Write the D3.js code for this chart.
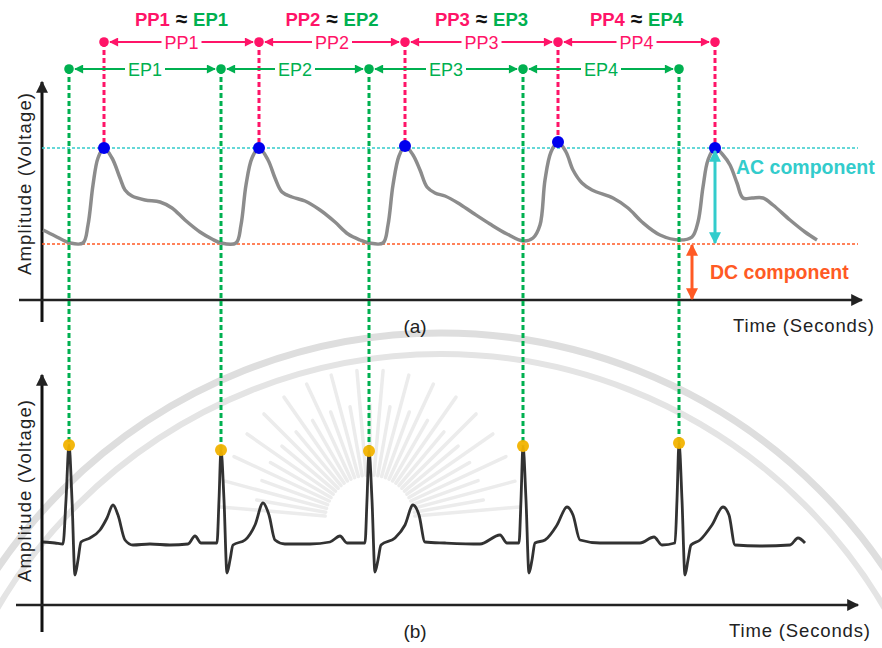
<!DOCTYPE html>
<html>
<head>
<meta charset="utf-8">
<script src="https://cdn.jsdelivr.net/npm/d3@7"></script>
<style>
	body { margin: 0; background: #fff; }
	svg { display: block; font-family: Arial, "Liberation Sans", sans-serif; }
</style>
</head>
<body>
<div id="chart"></div>
<script>

// PPG trace (a): time units and amplitude units
var ppgT = [3, 15, 30, 43, 48, 53, 58, 64, 72, 80, 85, 92, 105, 120, 132, 145, 160, 172, 181,
	196, 201, 206, 212, 219, 228, 235, 242, 252, 265, 280, 295, 308, 320, 329,
	343, 348, 353, 359, 365, 373, 380, 387, 395, 405, 418, 433, 450, 467, 483,
	493, 500, 505, 511, 518, 526, 533, 542, 552, 573, 588, 602, 620, 640,
	652, 658, 663, 668, 675, 683, 690, 697, 703, 712, 723, 733, 750, 765, 777];
var ppgV = [70, 64, 57, 57, 75, 115, 142, 152, 142, 122, 110, 104, 100, 98, 92, 80, 68, 61, 57,
	57, 75, 115, 142, 152, 140, 122, 108, 103, 99, 90, 78, 66, 60, 57,
	57, 75, 115, 144, 154, 145, 130, 113, 107, 104, 97, 87, 76, 66, 59,
	62, 75, 120, 148, 158, 148, 130, 117, 110, 102, 92, 78, 65, 60,
	63, 78, 113, 140, 152, 145, 135, 117, 102, 102, 102, 95, 80, 68, 60];

// ECG trace (b)
var ecgT = [3, 15, 23, 26, 29, 32, 35, 38, 41, 50, 60, 67, 73, 78, 85, 93, 110, 130, 148, 155, 161,
	177, 179, 181, 184, 187, 190, 193, 205, 215, 223, 229, 235, 245, 270, 290, 300, 307,
	325, 327, 329, 332, 335, 338, 341, 355, 365, 373, 379, 385, 405, 440, 460, 467,
	479, 481, 483, 486, 489, 492, 495, 505, 517, 527, 533, 540, 560, 600, 614, 622,
	635, 637, 639, 642, 645, 648, 651, 660, 672, 683, 689, 695, 720, 750, 758, 765];
var ecgV = [63, 62, 61, 105, 160, 105, 30, 45, 63, 67, 75, 87, 100, 90, 65, 60, 61, 60, 61, 69, 62,
	62, 105, 155, 105, 32, 45, 60, 65, 80, 102, 90, 65, 61, 61, 63, 69, 62,
	62, 105, 154, 105, 33, 45, 60, 67, 80, 100, 90, 63, 62, 61, 70, 62,
	62, 105, 159, 105, 32, 45, 62, 65, 80, 98, 90, 65, 62, 62, 68, 60,
	62, 105, 162, 105, 30, 45, 60, 65, 80, 98, 90, 60, 59, 60, 67, 62];

// systolic peaks of the PPG and R peaks of the ECG
var ppTimes = [64, 219, 365, 518, 675];
var ppAmps = [152, 152, 154, 158, 152];
var epTimes = [29, 181, 329, 483, 639];
var rAmps = [160, 155, 154, 159, 162];

var ppLabels = ["PP1", "PP2", "PP3", "PP4"];
var epLabels = ["EP1", "EP2", "EP3", "EP4"];

var acLevel = 152, dcLevel = 56;

var pink = "#ff1468", green = "#00b050", cyan = "#33cccc", orange = "#ff5a24",
	blue = "#0000ee", gold = "#f2b300";

var W = 882, H = 648;

var svg = d3.select("#chart").append("svg")
	.attr("width", W)
	.attr("height", H);

var defs = svg.append("defs");

var addMarker = function(id, color, w, h) {
	defs.append("marker")
	.attr("id", id)
	.attr("viewBox", "0 0 10 10")
	.attr("refX", 9)
	.attr("refY", 5)
	.attr("markerWidth", w)
	.attr("markerHeight", h)
	.attr("markerUnits", "userSpaceOnUse")
	.attr("orient", "auto-start-reverse")
	.append("path")
	.attr("d", "M0,0L10,5L0,10Z")
	.attr("fill", color);
}
addMarker("ax", "#222", 13, 12);
addMarker("mp", pink, 10, 9);
addMarker("mg", green, 10, 9);
addMarker("mc", cyan, 13, 12);
addMarker("mo", orange, 13, 12);

// scales
var x = d3.scaleLinear().domain([0, 820]).range([40, 860]);
var yA = d3.scaleLinear().domain([0, 160]).range([300, 140]);
var yB = d3.scaleLinear().domain([0, 170]).range([605, 435]);

// faint seal watermark behind panel (b)
var wm = svg.append("g").attr("class", "watermark").attr("fill", "none");
wm.append("circle").attr("cx", 441).attr("cy", 868).attr("r", 535)
	.attr("stroke", "#dedede").attr("stroke-width", 7);
wm.append("circle").attr("cx", 441).attr("cy", 868).attr("r", 514)
	.attr("stroke", "#e4e4e4").attr("stroke-width", 6);
wm.selectAll("line.ray")
	.data(d3.range(185, 356, 5))
	.enter()
	.append("line")
	.attr("class", "ray")
	.attr("x1", function(d) { return 370 + 45 * Math.cos(d * Math.PI / 180); })
	.attr("y1", function(d) { return 520 + 45 * Math.sin(d * Math.PI / 180); })
	.attr("x2", function(d, i) { return 370 + (i % 2 ? 115 : 150) * Math.cos(d * Math.PI / 180); })
	.attr("y2", function(d, i) { return 520 + (i % 2 ? 115 : 150) * Math.sin(d * Math.PI / 180); })
	.attr("stroke", "#ececec")
	.attr("stroke-width", 3.5)
	.attr("stroke-linecap", "round");

// axes with arrows
var drawAxes = function(yBase, yTop, yBottom, xLeft, xRight) {
	svg.append("line")
	.attr("x1", 42).attr("y1", yBottom).attr("x2", 42).attr("y2", yTop)
	.attr("stroke", "#111").attr("stroke-width", 3)
	.attr("marker-end", "url(#ax)");
	svg.append("line")
	.attr("x1", xLeft).attr("y1", yBase).attr("x2", xRight).attr("y2", yBase)
	.attr("stroke", "#222").attr("stroke-width", 2.5)
	.attr("marker-end", "url(#ax)");
}
drawAxes(yA(0), 82, 322, 19, 862);
drawAxes(yB(0), 375, 632, 16, 858);

// AC / DC reference lines
svg.append("line")
	.attr("x1", 42).attr("x2", 858)
	.attr("y1", yA(acLevel)).attr("y2", yA(acLevel))
	.attr("stroke", cyan).attr("stroke-width", 1.5)
	.attr("stroke-dasharray", "3,2");
svg.append("line")
	.attr("x1", 42).attr("x2", 858)
	.attr("y1", yA(dcLevel)).attr("y2", yA(dcLevel))
	.attr("stroke", orange).attr("stroke-width", 1.5)
	.attr("stroke-dasharray", "3,2");

// traces
var ppgLine = d3.line()
	.x(function(d, i) { return x(ppgT[i]); })
	.y(function(d) { return yA(d); })
	.curve(d3.curveCatmullRom.alpha(0.5));
svg.append("path")
	.attr("d", ppgLine(ppgV))
	.attr("fill", "none")
	.attr("stroke", "#8c8c8c")
	.attr("stroke-width", 3.5)
	.attr("stroke-linejoin", "round");

var ecgLine = d3.line()
	.x(function(d, i) { return x(ecgT[i]); })
	.y(function(d) { return yB(d); })
	.curve(d3.curveMonotoneX);
svg.append("path")
	.attr("d", ecgLine(ecgV))
	.attr("fill", "none")
	.attr("stroke", "#161616")
	.attr("stroke-opacity", 0.88)
	.attr("stroke-width", 2.8)
	.attr("stroke-linejoin", "round");

// vertical dotted guides
var rowPP = 42, rowEP = 69;
svg.selectAll("line.ppv")
	.data(ppTimes)
	.enter()
	.append("line")
	.attr("class", "ppv")
	.attr("x1", function(d) { return x(d); })
	.attr("x2", function(d) { return x(d); })
	.attr("y1", rowPP)
	.attr("y2", function(d, i) { return yA(ppAmps[i]); })
	.attr("stroke", pink).attr("stroke-width", 3)
	.attr("stroke-dasharray", "5,3");
svg.selectAll("line.epv")
	.data(epTimes)
	.enter()
	.append("line")
	.attr("class", "epv")
	.attr("x1", function(d) { return x(d); })
	.attr("x2", function(d) { return x(d); })
	.attr("y1", rowEP)
	.attr("y2", function(d, i) { return yB(rAmps[i]); })
	.attr("stroke", green).attr("stroke-width", 3)
	.attr("stroke-dasharray", "5,3");

// peak dots
svg.selectAll("circle.pp")
	.data(ppTimes)
	.enter()
	.append("circle")
	.attr("class", "pp")
	.attr("cx", function(d) { return x(d); })
	.attr("cy", function(d, i) { return yA(ppAmps[i]); })
	.attr("r", 6)
	.attr("fill", blue);
svg.selectAll("circle.ep")
	.data(epTimes)
	.enter()
	.append("circle")
	.attr("class", "ep")
	.attr("cx", function(d) { return x(d); })
	.attr("cy", function(d, i) { return yB(rAmps[i]); })
	.attr("r", 6)
	.attr("fill", gold)
	.attr("fill-opacity", 0.95);

// interval rows (PP / EP)
var drawRow = function(times, labels, yRow, color, marker, cls) {
	svg.selectAll("circle." + cls)
	.data(times)
	.enter()
	.append("circle")
	.attr("class", cls)
	.attr("cx", function(d) { return x(d); })
	.attr("cy", yRow)
	.attr("r", 4.8)
	.attr("fill", color);

	var seg = svg.selectAll("g." + cls + "seg")
	.data(labels)
	.enter()
	.append("g")
	.attr("class", cls + "seg");

	seg.append("line")
	.attr("x1", function(d, i) { return x(times[i]) + 6; })
	.attr("x2", function(d, i) { return x(times[i + 1]) - 6; })
	.attr("y1", yRow).attr("y2", yRow)
	.attr("stroke", color).attr("stroke-width", 2)
	.attr("marker-start", "url(#" + marker + ")")
	.attr("marker-end", "url(#" + marker + ")");

	seg.append("rect")
	.attr("x", function(d, i) { return (x(times[i]) + x(times[i + 1])) / 2 - 20; })
	.attr("y", yRow - 10)
	.attr("width", 40)
	.attr("height", 20)
	.attr("fill", "#fff");

	seg.append("text")
	.attr("x", function(d, i) { return (x(times[i]) + x(times[i + 1])) / 2; })
	.attr("y", yRow + 6.5)
	.attr("text-anchor", "middle")
	.attr("font-size", 18)
	.attr("fill", color)
	.text(function(d) { return d; });
}
drawRow(ppTimes, ppLabels, rowPP, pink, "mp", "ppr");
drawRow(epTimes, epLabels, rowEP, green, "mg", "epr");

// PPn ≈ EPn headings
var heads = svg.selectAll("text.head")
	.data(ppLabels)
	.enter()
	.append("text")
	.attr("class", "head")
	.attr("x", function(d, i) { return (x(ppTimes[i]) + x(ppTimes[i + 1])) / 2; })
	.attr("y", 26)
	.attr("text-anchor", "middle")
	.attr("font-size", 18.5)
	.attr("font-weight", "bold");
heads.append("tspan").attr("fill", pink).text(function(d) { return d; });
heads.append("tspan").attr("fill", "#111").attr("font-size", 21).text(" \u2248 ");
heads.append("tspan").attr("fill", green).text(function(d, i) { return epLabels[i]; });

// AC / DC component arrows
var acX = x(ppTimes[4]);
svg.append("line")
	.attr("x1", acX).attr("x2", acX)
	.attr("y1", yA(acLevel) + 3).attr("y2", yA(dcLevel) - 1)
	.attr("stroke", cyan).attr("stroke-width", 3)
	.attr("marker-start", "url(#mc)")
	.attr("marker-end", "url(#mc)");
svg.append("text")
	.attr("x", 736).attr("y", 174)
	.attr("font-size", 19.5).attr("font-weight", "bold")
	.attr("fill", cyan)
	.text("AC component");

var dcX = x(652);
svg.append("line")
	.attr("x1", dcX).attr("x2", dcX)
	.attr("y1", yA(dcLevel) + 1).attr("y2", yA(0) - 1)
	.attr("stroke", orange).attr("stroke-width", 3)
	.attr("marker-start", "url(#mo)")
	.attr("marker-end", "url(#mo)");
svg.append("text")
	.attr("x", 710).attr("y", 279)
	.attr("font-size", 19.5).attr("font-weight", "bold")
	.attr("fill", orange)
	.text("DC component");

// axis titles
var yTitle = function(cy) {
	svg.append("text")
	.attr("transform", "translate(24," + cy + ")rotate(-90)")
	.attr("text-anchor", "middle")
	.attr("dominant-baseline", "central")
	.attr("font-size", 18.5)
	.attr("fill", "#222")
	.attr("textLength", 182)
	.text("Amplitude (Voltage)");
}
yTitle(184);
yTitle(491);

var xTitle = function(tx, ty) {
	svg.append("text")
	.attr("x", tx).attr("y", ty)
	.attr("font-size", 18.5)
	.attr("fill", "#222")
	.attr("textLength", 141)
	.text("Time (Seconds)");
}
xTitle(733, 332);
xTitle(729, 637);

svg.append("text").attr("x", 415).attr("y", 333)
	.attr("text-anchor", "middle").attr("font-size", 19).attr("fill", "#222").text("(a)");
svg.append("text").attr("x", 415).attr("y", 638)
	.attr("text-anchor", "middle").attr("font-size", 19).attr("fill", "#222").text("(b)");

</script>
</body>
</html>
